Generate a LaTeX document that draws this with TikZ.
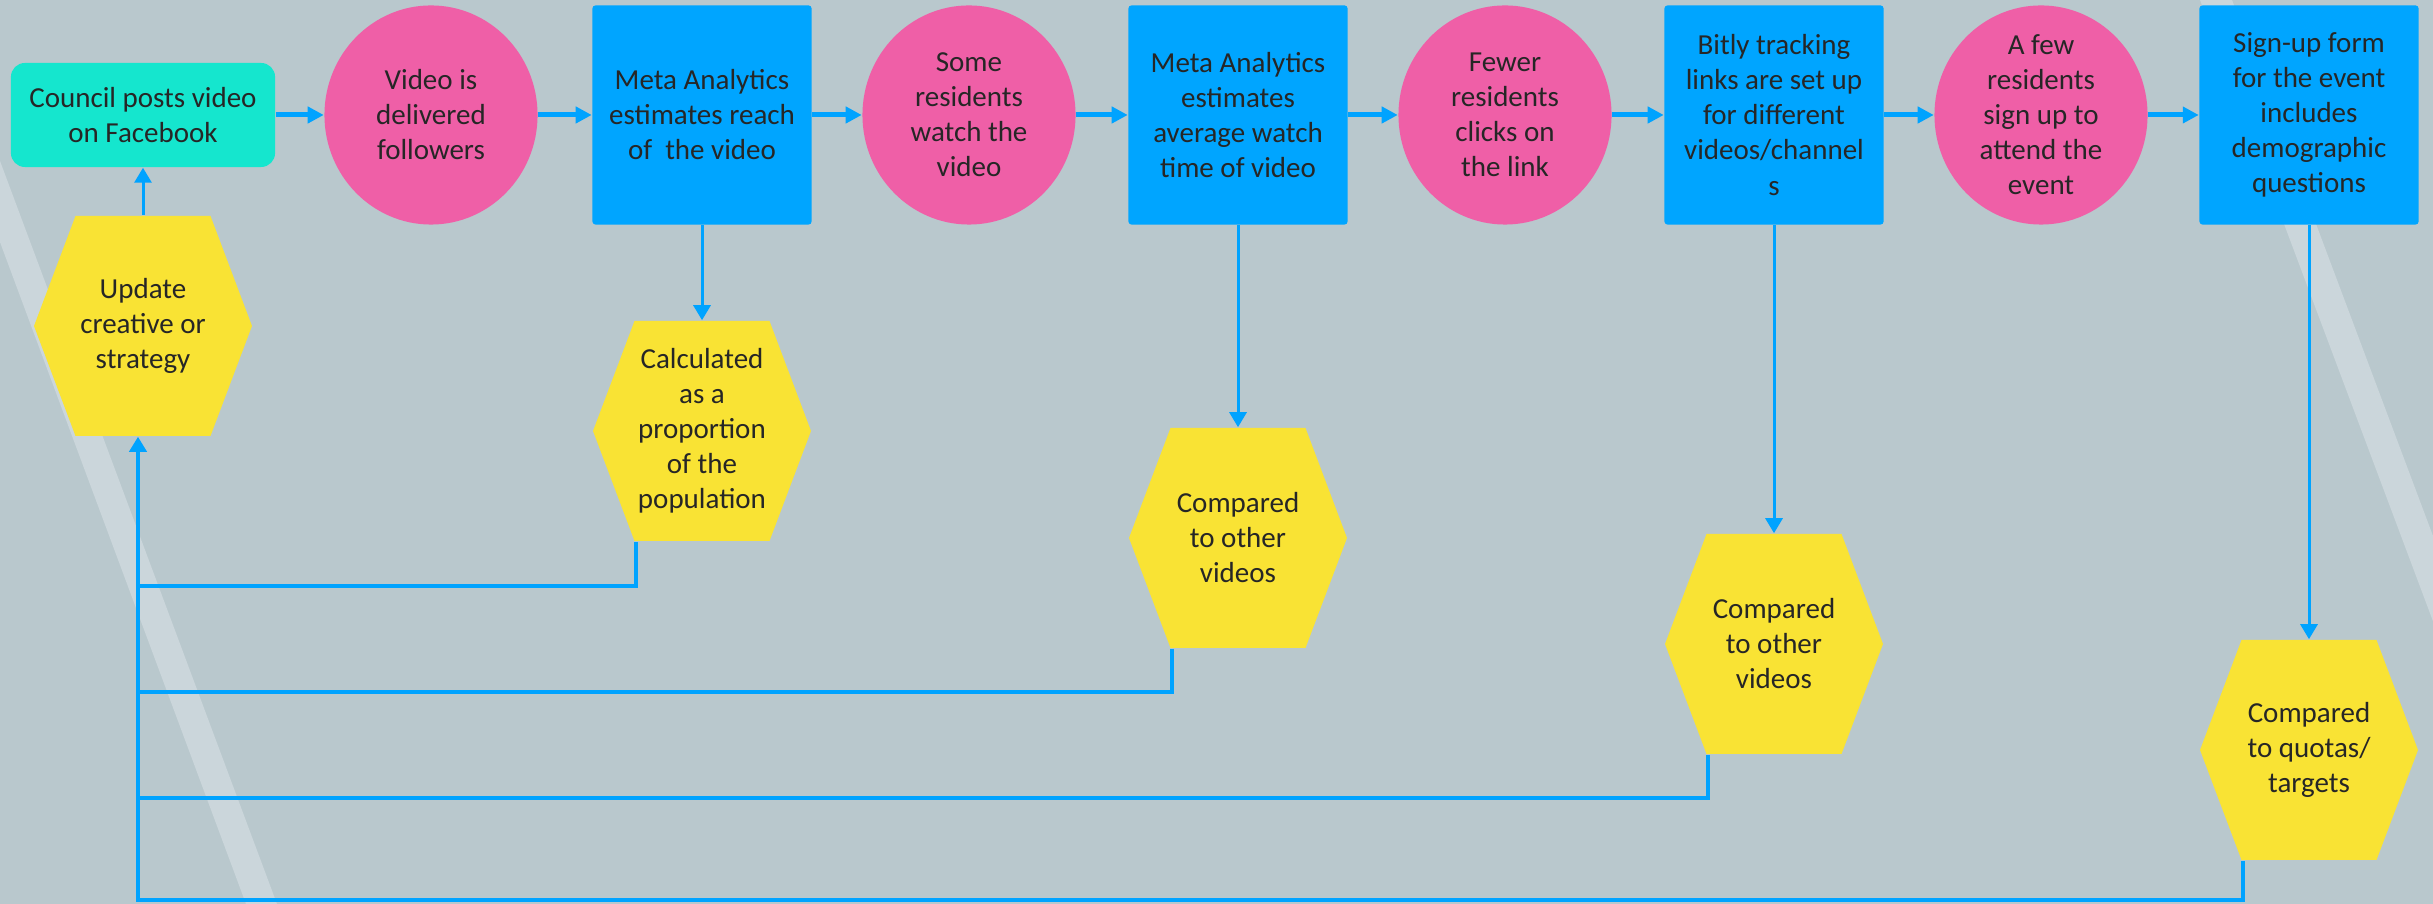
\documentclass[tikz,border=0pt]{standalone}
\usepackage{fontspec}
\setmainfont{Carlito}
\usetikzlibrary{arrows.meta,shapes.geometric}
\definecolor{bgc}{RGB}{185,200,205}
\definecolor{stripec}{RGB}{203,214,219}
\definecolor{tealc}{RGB}{21,230,206}
\definecolor{pinkc}{RGB}{239,95,167}
\definecolor{bluec}{RGB}{0,165,255}
\definecolor{yellowc}{RGB}{249,227,52}
\definecolor{linec}{RGB}{0,163,255}
\definecolor{textc}{RGB}{38,38,38}
\tikzset{
  every node/.style={text=textc, font=\fontsize{8.25}{9.96}\selectfont, align=center, inner sep=0pt},
  postbox/.style={fill=tealc, rounded corners=0.14cm, minimum width=2.64cm, minimum height=1.04cm},
  bubble/.style={ellipse, fill=pinkc, inner sep=-0.15cm, minimum width=2.13cm, minimum height=2.19cm},
  metric/.style={fill=bluec, rounded corners=0.03cm, minimum width=2.19cm, minimum height=2.19cm},
  hexbox/.style={minimum width=2.18cm, minimum height=2.2cm},
  flow/.style={draw=linec, line width=0.05cm, -{Triangle[length=0.16cm,width=0.16cm]}},
  drop/.style={draw=linec, line width=0.03cm, -{Triangle[length=0.15cm,width=0.17cm]}},
  back/.style={draw=linec, line width=0.04cm},
}
\begin{document}
\begin{tikzpicture}[x=0.01cm, y=-0.01cm]
  \useasboundingbox (0,0) rectangle (2433,904);
  \fill[bgc] (0,0) rectangle (2433,904);
  % light stripes
  \begin{scope}
    \clip (0,0) rectangle (2433,904);
    \fill[stripec] (-90,0) -- (-60,0) -- (277,904) -- (246,904) -- cycle;
    \fill[stripec] (2200,0) -- (2232,0) -- (2571,904) -- (2539,904) -- cycle;
  \end{scope}
  % hexagons
  \foreach \c in {(143,326),(702,431),(1238,538),(1774,644),(2309,750)}
    \fill[yellowc] \c +(-67.5,-110) -- +(67.5,-110) -- +(109,0) -- +(67.5,110)
      -- +(-67.5,110) -- +(-109,0) -- cycle;
  \draw
    (143,115) node[postbox] (post) {Council posts video\\on Facebook}
    (431,115) node[bubble] (e1) {Video is\\delivered\\followers}
    (702,115) node[metric] (b1) {Meta Analytics\\estimates reach\\of\ \ the video}
    (969,115) node[bubble] (e2) {Some\\residents\\watch the\\video}
    (1238,115) node[metric] (b2) {Meta Analytics\\estimates\\average watch\\time of video}
    (1505,115) node[bubble] (e3) {Fewer\\residents\\clicks on\\the link}
    (1774,115) node[metric] (b3) {Bitly tracking\\links are set up\\for different\\videos/channel\\s}
    (2041,115) node[bubble] (e4) {A few\\residents\\sign up to\\attend the\\event}
    (2309,115) node[metric] (b4) {Sign-up form\\for the event\\includes\\demographic\\questions}
    (143,326) node[hexbox] (upd) {Update\\creative or\\strategy}
    (702,431) node[hexbox] (cal) {Calculated\\as a\\proportion\\of the\\population}
    (1238,538) node[hexbox] (cmp1) {Compared\\to other\\videos}
    (1774,644) node[hexbox] (cmp2) {Compared\\to other\\videos}
    (2309,750) node[hexbox] (quo) {Compared\\to quotas/\\targets};
  \coordinate (j1) at (138,586);
  \coordinate (j2) at (138,692);
  \coordinate (j3) at (138,798);
  \coordinate (j4) at (138,900);
  \begin{scope}[flow]
    \draw (post) -- (e1);
    \draw (e1) -- (b1);
    \draw (b1) -- (e2);
    \draw (e2) -- (b2);
    \draw (b2) -- (e3);
    \draw (e3) -- (b3);
    \draw (b3) -- (e4);
    \draw (e4) -- (b4);
  \end{scope}
  \begin{scope}[drop]
    \draw (upd) -- (post);
    \draw (b1) -- (cal);
    \draw (b2) -- (cmp1);
    \draw (b3) -- (cmp2);
    \draw (b4) -- (quo);
  \end{scope}
  \begin{scope}[back]
    \draw ([xshift=0.44cm]cal.south west) |- (j1);
    \draw ([xshift=0.44cm]cmp1.south west) |- (j2);
    \draw ([xshift=0.44cm]cmp2.south west) |- (j3);
    \draw[-{Triangle[length=0.15cm,width=0.17cm]}] ([xshift=0.44cm]quo.south west) |- (j4) -- (upd.south -| j4);
  \end{scope}
\end{tikzpicture}
\end{document}
